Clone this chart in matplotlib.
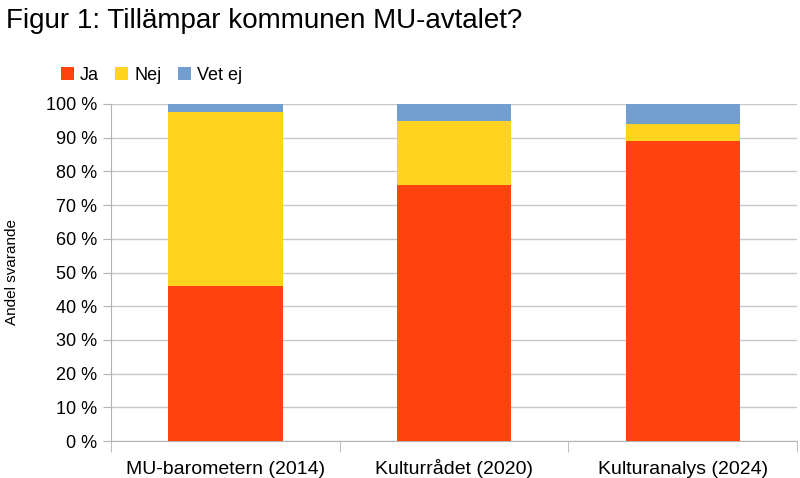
import matplotlib
matplotlib.use("Agg")
import matplotlib.pyplot as plt
import numpy as np
from matplotlib.patches import Patch

categories = ["MU-barometern (2014)", "Kulturrådet (2020)", "Kulturanalys (2024)"]
series_names = ["Ja", "Nej", "Vet ej"]
ja = [46, 76, 89]
nej = [51.5, 19, 5]
vet_ej = [2.5, 5, 6]
colors = ["#ff420e", "#ffd320", "#729fcf"]
yticks = list(range(0, 101, 10))
ytick_labels = [f"{v} %" for v in yticks]

plt.rcParams['font.family'] = ['Liberation Sans', 'DejaVu Sans']

fig = plt.figure(figsize=(8, 4.78), dpi=100)
ax = fig.add_axes([111/800, 1 - 441/478, (797-111)/800, (441-104)/478])

x = np.arange(len(categories))
bottom = np.zeros(len(categories))
for name, vals, c in zip(series_names, [ja, nej, vet_ej], colors):
    ax.bar(x, vals, width=0.5, bottom=bottom, color=c, label=name, zorder=3)
    bottom += np.array(vals)

ax.set_xlim(-0.5, len(categories) - 0.5)
ax.set_ylim(0, 100)
ax.set_yticks(yticks)
ax.set_yticklabels(ytick_labels, fontsize=13)
ax.set_xticks(x)
ax.set_xticklabels(categories, fontsize=14, va="baseline")
ax.tick_params(axis='x', length=0, pad=24)
ax.tick_params(axis='y', length=6, color="#b3b3b3", pad=4)
# category separator ticks
ax.set_xticks(np.arange(-0.5, len(categories), 1.0), minor=True)
ax.tick_params(axis='x', which='minor', length=8, color="#b3b3b3")

ax.yaxis.grid(True, color="#c8c8c8", linewidth=1, zorder=0)
for s in ["top", "right"]:
    ax.spines[s].set_visible(False)
for s in ["left", "bottom"]:
    ax.spines[s].set_color("#b3b3b3")

fig.text(12/800, 1 - 272/478, "Andel svarande", fontsize=11, rotation=90,
         ha="center", va="center")

fig.text(6/800, 1 - 21/478, "Figur 1: Tillämpar kommunen MU-avtalet?", fontsize=20,
         ha="left", va="center")

handles = [Patch(facecolor=c, label=n) for n, c in zip(series_names, colors)]
fig.legend(handles=handles, loc="center left", bbox_to_anchor=(54/800, 1 - 75/478),
           ncol=3, frameon=False, fontsize=13, handlelength=0.7, handleheight=0.7,
           handletextpad=0.35, columnspacing=0.9, borderaxespad=0)

fig.savefig("out.png", dpi=100)
